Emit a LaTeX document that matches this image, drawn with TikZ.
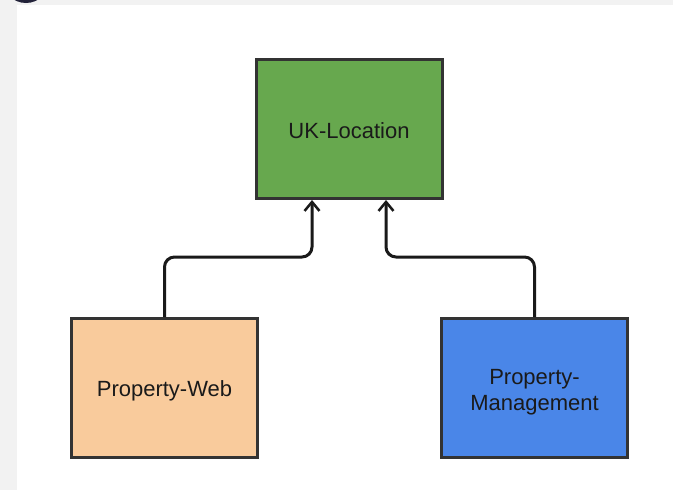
\documentclass[tikz,border=0pt]{standalone}
\usepackage{fontspec}
\setmainfont{Liberation Sans}
\usetikzlibrary{arrows.meta}
\definecolor{bggray}{HTML}{F2F2F2}
\definecolor{boxborder}{HTML}{333333}
\definecolor{ukgreen}{HTML}{67A84E}
\definecolor{weborange}{HTML}{F9CB9C}
\definecolor{mgmtblue}{HTML}{4A86E8}
\definecolor{dotnavy}{HTML}{23233A}
\definecolor{txt}{HTML}{1A1A1A}
\tikzset{
  box/.style={draw=boxborder, line width=3pt, rectangle, minimum width=186pt, minimum height=139pt,
    inner sep=0pt, align=center, font=\fontsize{22}{26}\selectfont, text=txt, text depth=0pt},
  link/.style={draw=txt, line width=3pt, rounded corners=10pt,
    -{Straight Barb[length=9pt,width=15pt,line width=2.5pt]}}
}
\begin{document}
\begin{tikzpicture}[x=1pt,y=-1pt]
\useasboundingbox (0,0) rectangle (673,490);
\begin{scope}
\clip (0,0) rectangle (673,490);
\fill[bggray] (0,0) rectangle (673,490);
\fill[white] (17,5) rectangle (673,490);
\fill[dotnavy] (26,-20.5) circle[radius=23.5pt];
\end{scope}
\node[box, fill=ukgreen, text height=18pt] (UK) at (349,129) {UK-Location};
\node[box, fill=weborange, text height=16pt] (PW) at (164.5,388) {Property-Web};
\node[box, fill=mgmtblue, text height=44pt] (PM) at (534.5,388) {Property-\\Management};
\draw[link] (PW.north) -- ++(0,-60) -| ([xshift=-37pt]UK.south);
\draw[link] (PM.north) -- ++(0,-60) -| ([xshift=37pt]UK.south);
\end{tikzpicture}
\end{document}
